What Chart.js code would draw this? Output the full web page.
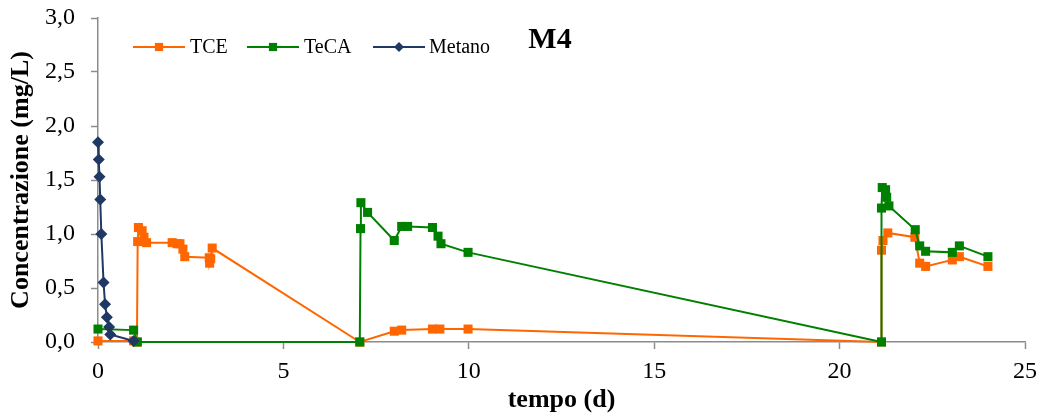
<!DOCTYPE html>
<html>
<head>
<meta charset="utf-8">
<script src="https://cdn.jsdelivr.net/npm/chart.js@4"></script>
<style>
  html, body { margin: 0; padding: 0; background: #ffffff; }
  #wrap { width: 1046px; height: 416px; position: relative; }
</style>
</head>
<body>
<div id="wrap"><canvas id="chart" width="1046" height="416"></canvas></div>
<script>
// Campionamenti del microcosmo M4: tempo (giorni) e concentrazione (mg/L)
const tceDays = [0, 0.96, 1.05, 1.07, 1.09, 1.19, 1.24, 1.31, 2.0, 2.13, 2.21, 2.29, 2.34, 3.0, 3.01, 3.04, 3.08,
                 7.06, 7.99, 8.19, 9.02, 9.22, 9.98,
                 21.13, 21.13, 21.17, 21.30, 22.03, 22.16, 22.32, 23.04, 23.23, 24.0];
const tceConc = [0.01, 0.01, 0.0, 0.93, 1.06, 1.03, 0.97, 0.92, 0.92, 0.91, 0.91, 0.86, 0.79, 0.78, 0.73, 0.77, 0.87,
                 0.0, 0.10, 0.11, 0.12, 0.12, 0.12,
                 0.0, 0.85, 0.94, 1.01, 0.97, 0.73, 0.70, 0.76, 0.79, 0.70];

const tecaDays = [0, 0.96, 1.06, 7.06, 7.08, 7.09, 7.27, 7.99, 8.19, 8.35, 9.02, 9.17, 9.25, 9.98,
                  21.13, 21.13, 21.15, 21.24, 21.27, 21.33, 22.04, 22.16, 22.32, 23.04, 23.23, 24.0];
const tecaConc = [0.12, 0.11, 0.0, 0.0, 1.05, 1.29, 1.20, 0.94, 1.07, 1.07, 1.06, 0.98, 0.91, 0.83,
                  0.0, 1.24, 1.43, 1.41, 1.34, 1.26, 1.04, 0.89, 0.84, 0.83, 0.89, 0.79];

const metanoDays = [0, 0.02, 0.04, 0.06, 0.09, 0.15, 0.19, 0.24, 0.30, 0.33, 0.96];
const metanoConc = [1.85, 1.69, 1.53, 1.32, 1.00, 0.55, 0.35, 0.23, 0.14, 0.07, 0.01];

const seriesNames = ['TCE', 'TeCA', 'Metano'];
const xTickValues = [0, 5, 10, 15, 20, 25];
const yTickLabels = ['0,0', '0,5', '1,0', '1,5', '2,0', '2,5', '3,0'];
const chartTitle = 'M4';

const toPoints = (xs, ys) => xs.map((x, i) => ({ x: x, y: ys[i] }));

const AXIS_GREY = '#8c8c8c';
const SERIF = "'Liberation Serif', 'Times New Roman', serif";

function drawMarker(ctx, style, r, x, y) {
  if (style === 'rect') {
    const s = Math.SQRT1_2 * r;
    ctx.rect(x - s, y - s, 2 * s, 2 * s);
  } else {
    ctx.moveTo(x - r, y);
    ctx.lineTo(x, y - r);
    ctx.lineTo(x + r, y);
    ctx.lineTo(x, y + r);
    ctx.closePath();
  }
}

// Legenda in stile foglio di calcolo (linea con marcatore al centro) e titolo interno
const lineLegend = {
  id: 'lineLegend',
  afterDraw(chart) {
    const ctx = chart.ctx;
    const y = 47;
    const items = [
      { start: 133, text: 190 },
      { start: 247, text: 304 },
      { start: 373, text: 429 }
    ];
    ctx.save();
    chart.data.datasets.forEach((ds, i) => {
      const it = items[i];
      ctx.strokeStyle = ds.borderColor;
      ctx.lineWidth = 2;
      ctx.beginPath();
      ctx.moveTo(it.start, y);
      ctx.lineTo(it.start + 52, y);
      ctx.stroke();
      ctx.fillStyle = ds.pointBackgroundColor;
      ctx.beginPath();
      drawMarker(ctx, ds.pointStyle, ds.pointStyle === 'rect' ? 5.8 : 5, it.start + 26, y);
      ctx.fill();
      ctx.fillStyle = '#000000';
      ctx.font = "20px " + SERIF;
      ctx.textBaseline = 'middle';
      ctx.textAlign = 'left';
      ctx.fillText(seriesNames[i], it.text, y + 1);
    });
    ctx.font = "bold 30px " + SERIF;
    ctx.textAlign = 'center';
    ctx.textBaseline = 'alphabetic';
    ctx.fillText(chartTitle, 550, 48);
    ctx.restore();
  }
};

new Chart(document.getElementById('chart'), {
  type: 'scatter',
  data: {
    datasets: [
      {
        label: seriesNames[0],
        data: toPoints(tceDays, tceConc),
        showLine: true,
        borderColor: '#ff6600',
        backgroundColor: '#ff6600',
        pointBackgroundColor: '#ff6600',
        pointBorderColor: '#ff6600',
        pointStyle: 'rect',
        pointRadius: 6.4,
        pointBorderWidth: 0,
        borderWidth: 2,
        tension: 0,
        clip: false,
        order: 3
      },
      {
        label: seriesNames[1],
        data: toPoints(tecaDays, tecaConc),
        showLine: true,
        borderColor: '#008000',
        backgroundColor: '#008000',
        pointBackgroundColor: '#008000',
        pointBorderColor: '#008000',
        pointStyle: 'rect',
        pointRadius: 6.4,
        pointBorderWidth: 0,
        borderWidth: 2,
        tension: 0,
        clip: false,
        order: 2
      },
      {
        label: seriesNames[2],
        data: toPoints(metanoDays, metanoConc),
        showLine: true,
        borderColor: '#1f3864',
        backgroundColor: '#1f3864',
        pointBackgroundColor: '#1f3864',
        pointBorderColor: '#1f3864',
        pointStyle: 'rectRot',
        pointRadius: 6,
        pointBorderWidth: 0,
        borderWidth: 2,
        tension: 0,
        clip: false,
        order: 1
      }
    ]
  },
  options: {
    responsive: false,
    animation: false,
    devicePixelRatio: 1,
    layout: { padding: { top: 18, right: 21, left: 0, bottom: 0 } },
    plugins: {
      legend: { display: false },
      tooltip: { enabled: false },
      title: { display: false }
    },
    scales: {
      x: {
        type: 'linear',
        min: 0,
        max: 25,
        afterFit(scale) {
          scale.height = 74;
          scale.paddingLeft = 0;
          scale.paddingRight = 0;
        },
        afterBuildTicks(scale) { scale.ticks = xTickValues.map(v => ({ value: v })); },
        grid: {
          drawOnChartArea: false,
          drawTicks: true,
          tickLength: 7,
          tickColor: AXIS_GREY,
          tickWidth: 1.5
        },
        border: { display: true, color: AXIS_GREY, width: 1.5 },
        ticks: {
          color: '#000000',
          font: { family: SERIF, size: 24 },
          padding: 8,
          maxRotation: 0,
          callback: (v) => String(v)
        },
        title: {
          display: true,
          text: 'tempo (d)',
          color: '#000000',
          font: { family: SERIF, size: 26, weight: 'bold' },
          padding: { top: 9, bottom: 0 }
        }
      },
      y: {
        type: 'linear',
        min: 0,
        max: 3,
        afterFit(scale) {
          scale.width = 98;
          scale.paddingTop = 0;
          scale.paddingBottom = 0;
        },
        afterBuildTicks(scale) { scale.ticks = yTickLabels.map((_, i) => ({ value: i * 0.5 })); },
        grid: {
          drawOnChartArea: false,
          drawTicks: true,
          tickLength: 7,
          tickColor: AXIS_GREY,
          tickWidth: 1.5
        },
        border: { display: true, color: AXIS_GREY, width: 1.5 },
        ticks: {
          color: '#000000',
          font: { family: SERIF, size: 24 },
          padding: 16,
          callback: (v, i) => yTickLabels[i]
        },
        title: {
          display: true,
          text: 'Concentrazione (mg/L)',
          color: '#000000',
          font: { family: SERIF, size: 26, weight: 'bold' },
          padding: { top: 6, bottom: 0 }
        }
      }
    }
  },
  plugins: [lineLegend]
});
</script>
</body>
</html>
